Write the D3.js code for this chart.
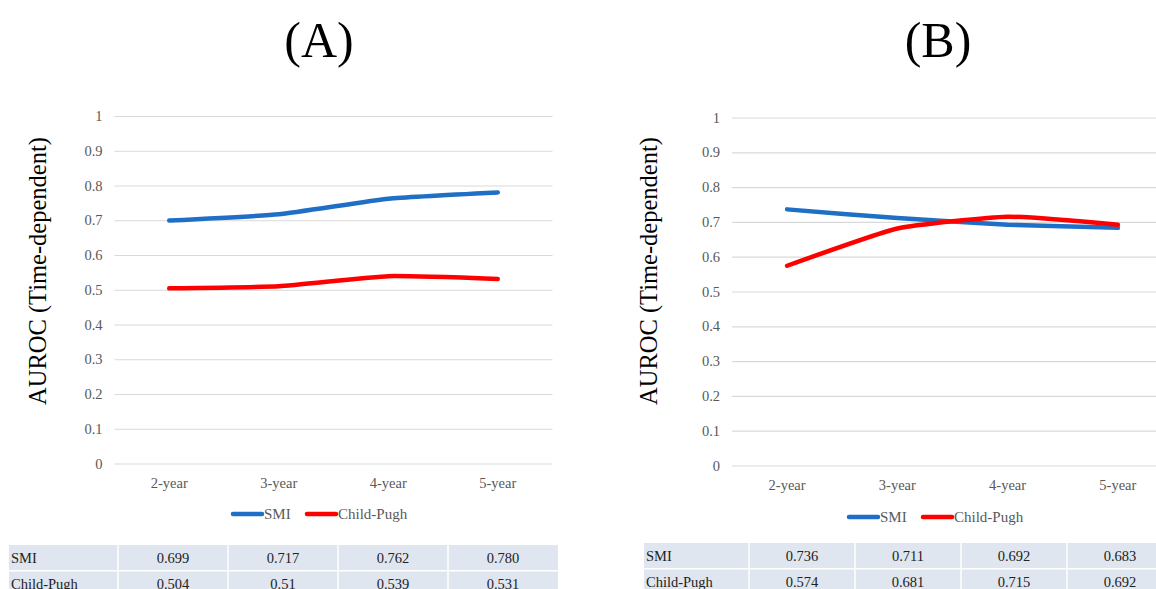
<!DOCTYPE html>
<html>
<head>
<meta charset="utf-8">
<script src="https://cdn.jsdelivr.net/npm/d3@7"></script>
<style>
  html, body { margin: 0; padding: 0; background: #fff; }
  svg { display: block; }
</style>
</head>
<body>
<svg id="chart" width="1156" height="589"></svg>
<script>
// Time-dependent AUROC by follow-up horizon
const years = ["2-year", "3-year", "4-year", "5-year"];
const yTicks = [0, 0.1, 0.2, 0.3, 0.4, 0.5, 0.6, 0.7, 0.8, 0.9, 1];
const seriesNames = ["SMI", "Child-Pugh"];
const seriesColors = ["#1f6fc6", "#ff0000"];

// Panel A
const smiA = [0.699, 0.717, 0.762, 0.780];
const childPughA = [0.504, 0.51, 0.539, 0.531];
// Panel B
const smiB = [0.736, 0.711, 0.692, 0.683];
const childPughB = [0.574, 0.681, 0.715, 0.692];

const SERIF = "'Liberation Serif', 'Times New Roman', serif";
const svg = d3.select("#chart").style("font-family", SERIF);

function drawPanel(p) {
  const g = svg.append("g").style("font-family", SERIF);

  const x = d3.scaleBand().domain(years).range([p.x0, p.x1]);
  const y = d3.scaleLinear().domain([0, 1]).range([p.yBottom, p.yTop]);

  // title
  g.append("text")
    .attr("x", p.titleX).attr("y", 57)
    .attr("text-anchor", "middle")
    .style("font-family", SERIF)
    .attr("font-size", 50).attr("fill", "#000")
    .text(p.title);

  // gridlines + y tick labels
  const yAxis = d3.axisLeft(y).tickValues(yTicks).tickFormat(d3.format("~g"))
    .tickSize(-(p.x1 - p.x0)).tickPadding(12);
  const ya = g.append("g").attr("transform", `translate(${p.x0},0)`).call(yAxis);
  ya.select(".domain").remove();
  ya.attr("font-family", null);
  ya.selectAll(".tick line").attr("stroke", "#d9d9d9").attr("stroke-width", 1.2);
  ya.selectAll(".tick text").attr("font-size", 14.5).attr("fill", "#595959")
    .style("font-family", SERIF);

  // x labels
  const xAxis = d3.axisBottom(x).tickSize(0).tickPadding(14);
  const xa = g.append("g").attr("transform", `translate(0,${p.yBottom})`).call(xAxis);
  xa.select(".domain").remove();
  xa.attr("font-family", null);
  xa.selectAll(".tick text").attr("font-size", 14.5).attr("fill", "#595959")
    .style("font-family", SERIF);

  // y axis title
  g.append("text")
    .attr("transform", `translate(${p.titleYX},${p.titleYY}) rotate(-90)`)
    .attr("text-anchor", "middle")
    .attr("dy", "0.35em")
    .style("font-family", SERIF)
    .attr("font-size", 24.5).attr("fill", "#000")
    .text("AUROC (Time-dependent)");

  // smoothed series lines
  const line = d3.line()
    .x((d, i) => x(years[i]) + x.bandwidth() / 2)
    .y(d => y(d))
    .curve(d3.curveCardinal.tension(0.55));
  p.series.forEach((vals, k) => {
    g.append("path").datum(vals)
      .attr("d", line)
      .attr("fill", "none")
      .attr("stroke", seriesColors[k])
      .attr("stroke-width", 4.5)
      .attr("stroke-linecap", "round")
      .attr("stroke-linejoin", "round");
  });

  // legend
  const lg = g.append("g").attr("transform", `translate(${p.legendX},${p.legendY})`);
  const offsets = [0, 74];
  seriesNames.forEach((name, k) => {
    lg.append("line")
      .attr("x1", offsets[k]).attr("x2", offsets[k] + 29)
      .attr("y1", 0).attr("y2", 0)
      .attr("stroke", seriesColors[k]).attr("stroke-width", 4.5)
      .attr("stroke-linecap", "round");
    lg.append("text")
      .attr("x", offsets[k] + 31).attr("y", 0).attr("dy", "0.35em")
      .style("font-family", SERIF)
      .attr("font-size", 15).attr("fill", "#595959")
      .text(name);
  });

  // data table below the chart
  const tb = g.append("g");
  const rowH = 25;
  const colX = [p.tableX0, p.tableX0 + p.firstColW];
  p.series.forEach((vals, r) => {
    const ry = p.tableY + r * (rowH + 1.5);
    tb.append("rect")
      .attr("x", p.tableX0).attr("y", ry)
      .attr("width", p.firstColW + p.colW * years.length).attr("height", rowH)
      .attr("fill", "#e0e6ef");
    tb.append("text")
      .attr("x", p.tableX0 + 2).attr("y", ry + 17.5)
      .style("font-family", SERIF)
      .attr("font-size", 14.5).attr("fill", "#222")
      .text(seriesNames[r]);
    vals.forEach((v, c) => {
      const cx = colX[1] + p.colW * c;
      tb.append("line")
        .attr("x1", cx).attr("x2", cx)
        .attr("y1", ry).attr("y2", ry + rowH)
        .attr("stroke", "#fff").attr("stroke-width", 1.5);
      tb.append("text")
        .attr("x", cx + p.colW / 2).attr("y", ry + 17.5)
        .attr("text-anchor", "middle")
        .style("font-family", SERIF)
        .attr("font-size", 14.5).attr("fill", "#222")
        .text(d3.format(p.formats[r])(v));
    });
  });
}

drawPanel({
  title: "(A)", titleX: 319,
  x0: 114.5, x1: 552.5, yTop: 116, yBottom: 463.5,
  titleYX: 37, titleYY: 271,
  series: [smiA, childPughA], formats: [".3f", ".3~f"],
  legendX: 233, legendY: 514,
  tableX0: 9, tableY: 545, firstColW: 109, colW: 110
});

drawPanel({
  title: "(B)", titleX: 938,
  x0: 732, x1: 1173, yTop: 117.5, yBottom: 465.5,
  titleYX: 648, titleYY: 271,
  series: [smiB, childPughB], formats: [".3f", ".3f"],
  legendX: 849, legendY: 517,
  tableX0: 644, tableY: 543, firstColW: 105, colW: 106
});
</script>
</body>
</html>
